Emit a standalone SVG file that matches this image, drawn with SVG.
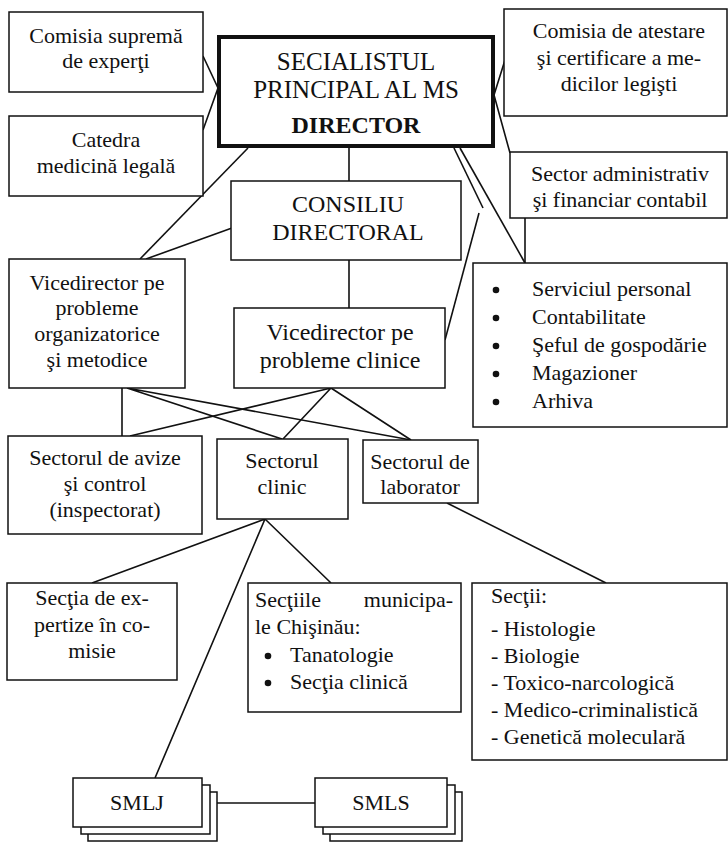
<svg xmlns="http://www.w3.org/2000/svg" width="728" height="842" viewBox="0 0 728 842">
<style>
.b{fill:#fff;stroke:#111;stroke-width:1.5}
.t{font-family:'Liberation Serif','Times New Roman',serif;font-size:22px;fill:#111}
.c{text-anchor:middle}
.l{stroke:#111;stroke-width:1.6;fill:none}
</style>
<rect width="728" height="842" fill="#fff"/>
<g id="connectors">
<path class="l" d="M203,56 L218,88 L203,130"/>
<path class="l" d="M248,148 L140,259"/>
<path class="l" d="M232,228 L146,259"/>
<path class="l" d="M349,148 V181 M349,260 V308"/>
<path class="l" d="M505,60 L494,95 L510,153"/>
<path class="l" d="M454,148 L483,208"/>
<path class="l" d="M460,148 L525,263"/>
<path class="l" d="M479,213 L445,340"/>
<path class="l" d="M525,218 V263"/>
<path class="l" d="M122,388 V436 M127,388 L282,439 M127,388 L411,440"/>
<path class="l" d="M331,388 L130,436 M331,388 L283,439 M331,388 L411,440"/>
<path class="l" d="M265,519 L92,583 M265,519 L155,778 M265,519 L331,583"/>
<path class="l" d="M447,503 L606,583"/>
<path class="l" d="M217,803 H315"/>
</g>
<g id="n_comisia_suprema">
<rect class="b" x="9" y="12" width="194" height="80"/>
<text class="t c" x="106" y="43">Comisia supremă</text>
<text class="t c" x="106" y="68">de experţi</text>
</g>
<g id="n_catedra">
<rect class="b" x="9" y="116" width="194" height="80"/>
<text class="t c" x="106" y="147">Catedra</text>
<text class="t c" x="106" y="173">medicină legală</text>
</g>
<g id="n_director">
<rect x="219" y="37" width="274" height="109" fill="#fff" stroke="#111" stroke-width="4"/>
<text class="t c" x="356" y="70" style="font-size:25px">SECIALISTUL</text>
<text class="t c" x="356" y="98" style="font-size:25px">PRINCIPAL AL MS</text>
<text class="t c" x="356" y="133" style="font-size:24px;font-weight:bold">DIRECTOR</text>
</g>
<g id="n_comisia_atestare">
<rect class="b" x="504" y="9" width="223" height="107"/>
<text class="t c" x="619" y="38">Comisia de atestare</text>
<text class="t c" x="619" y="65">şi certificare a me-</text>
<text class="t c" x="619" y="91">dicilor legişti</text>
</g>
<g id="n_sector_admin">
<rect class="b" x="510" y="152" width="217" height="66"/>
<text class="t c" x="620" y="181">Sector administrativ</text>
<text class="t c" x="620" y="207">şi financiar contabil</text>
</g>
<g id="n_consiliu">
<rect class="b" x="231" y="181" width="230" height="79"/>
<text class="t c" x="348" y="212" style="font-size:24px">CONSILIU</text>
<text class="t c" x="348" y="240" style="font-size:24px">DIRECTORAL</text>
</g>
<g id="n_vice_org">
<rect class="b" x="9" y="259" width="176" height="129"/>
<text class="t c" x="97" y="290">Vicedirector pe</text>
<text class="t c" x="97" y="315">probleme</text>
<text class="t c" x="97" y="341">organizatorice</text>
<text class="t c" x="97" y="367">şi metodice</text>
</g>
<g id="n_vice_clinic">
<rect class="b" x="234" y="308" width="211" height="80"/>
<text class="t c" x="340" y="340" style="font-size:24px">Vicedirector pe</text>
<text class="t c" x="340" y="368" style="font-size:24px">probleme clinice</text>
</g>
<g id="n_servicii">
<rect class="b" x="473" y="263" width="254" height="164"/>
<g fill="#111"><circle cx="496" cy="290" r="3.3"/><circle cx="496" cy="318" r="3.3"/><circle cx="496" cy="346" r="3.3"/><circle cx="496" cy="374" r="3.3"/><circle cx="496" cy="402" r="3.3"/></g>
<text class="t" x="532" y="296">Serviciul personal</text>
<text class="t" x="532" y="324">Contabilitate</text>
<text class="t" x="532" y="352">Şeful de gospodărie</text>
<text class="t" x="532" y="380">Magazioner</text>
<text class="t" x="532" y="408">Arhiva</text>
</g>
<g id="n_sector_avize">
<rect class="b" x="8" y="436" width="194" height="98"/>
<text class="t c" x="105" y="465">Sectorul de avize</text>
<text class="t c" x="105" y="491">şi control</text>
<text class="t c" x="105" y="517">(inspectorat)</text>
</g>
<g id="n_sector_clinic">
<rect class="b" x="217" y="439" width="131" height="80"/>
<text class="t c" x="282" y="468">Sectorul</text>
<text class="t c" x="282" y="494">clinic</text>
</g>
<g id="n_sector_laborator">
<rect class="b" x="363" y="440" width="115" height="63"/>
<text class="t c" x="420" y="469">Sectorul de</text>
<text class="t c" x="420" y="494">laborator</text>
</g>
<g id="n_sectia_expertize">
<rect class="b" x="7" y="583" width="170" height="97"/>
<text class="t c" x="92" y="605">Secţia de ex-</text>
<text class="t c" x="92" y="632">pertize în co-</text>
<text class="t c" x="92" y="658">misie</text>
</g>
<g id="n_sectiile_municipale">
<rect class="b" x="248" y="583" width="213" height="129"/>
<text class="t" x="255" y="607">Secţiile</text>
<text class="t" x="453" y="607" text-anchor="end">municipa-</text>
<text class="t" x="255" y="634">le Chişinău:</text>
<g fill="#111"><circle cx="268" cy="656" r="3.3"/><circle cx="268" cy="683" r="3.3"/></g>
<text class="t" x="290" y="662">Tanatologie</text>
<text class="t" x="290" y="689">Secţia clinică</text>
</g>
<g id="n_sectii">
<rect class="b" x="472" y="583" width="255" height="177"/>
<text class="t" x="491" y="603">Secţii:</text>
<text class="t" x="491" y="636">- Histologie</text>
<text class="t" x="491" y="663">- Biologie</text>
<text class="t" x="491" y="690">- Toxico-narcologică</text>
<text class="t" x="491" y="717">- Medico-criminalistică</text>
<text class="t" x="491" y="744">- Genetică moleculară</text>
</g>
<g id="n_smlj">
<rect class="b" x="88" y="792" width="129" height="49"/>
<rect class="b" x="81" y="785" width="129" height="49"/>
<rect class="b" x="73" y="778" width="129" height="49"/>
<text class="t c" x="137" y="810">SMLJ</text>
</g>
<g id="n_smls">
<rect class="b" x="330" y="792" width="132" height="49"/>
<rect class="b" x="323" y="785" width="132" height="49"/>
<rect class="b" x="315" y="778" width="132" height="49"/>
<text class="t c" x="381" y="810">SMLS</text>
</g>
</svg>
